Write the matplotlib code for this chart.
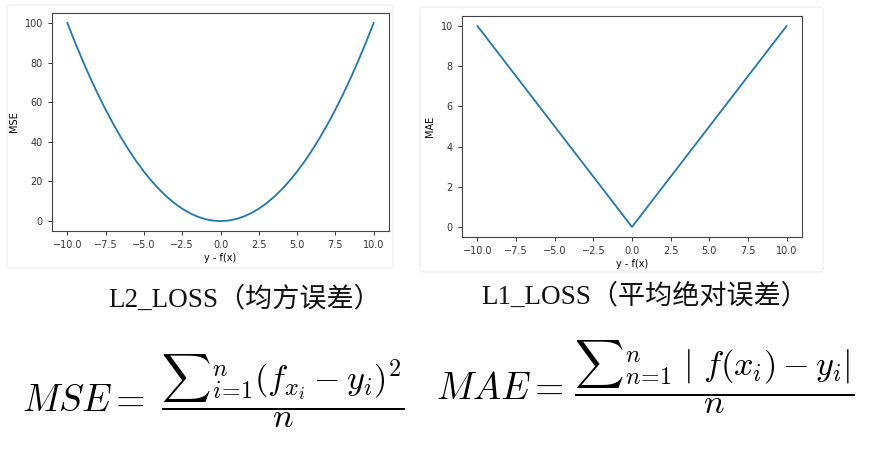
import matplotlib
matplotlib.use("Agg")
import matplotlib.pyplot as plt
from matplotlib.patches import FancyBboxPatch

plt.rcParams['mathtext.fontset'] = 'cm'

# values
x_mse = [-10, -9.5, -9, -8.5, -8, -7.5, -7, -6.5, -6, -5.5, -5, -4.5, -4, -3.5, -3, -2.5, -2, -1.5, -1, -0.5,
         0, 0.5, 1, 1.5, 2, 2.5, 3, 3.5, 4, 4.5, 5, 5.5, 6, 6.5, 7, 7.5, 8, 8.5, 9, 9.5, 10]
y_mse = [100, 90.25, 81, 72.25, 64, 56.25, 49, 42.25, 36, 30.25, 25, 20.25, 16, 12.25, 9, 6.25, 4, 2.25, 1, 0.25,
         0, 0.25, 1, 2.25, 4, 6.25, 9, 12.25, 16, 20.25, 25, 30.25, 36, 42.25, 49, 56.25, 64, 72.25, 81, 90.25, 100]
x_mae = [-10, 0, 10]
y_mae = [10, 0, 10]

W, H = 881, 459
fig = plt.figure(figsize=(W / 100, H / 100), dpi=100)
fig.patch.set_facecolor("white")

def px(x0, y0, x1, y1):
    # pixel box -> figure fraction [left, bottom, width, height]
    return [x0 / W, 1 - y1 / H, (x1 - x0) / W, (y1 - y0) / H]

# light screenshot cards behind each plot
for box in [(7, 5, 393, 268), (420, 7, 823, 272)]:
    l, b, w, h = px(*box)
    fig.patches.append(FancyBboxPatch((l, b), w, h, boxstyle="round,pad=0,rounding_size=0.006",
                                      transform=fig.transFigure, facecolor="white",
                                      edgecolor="#ececec", linewidth=0.8, zorder=-5))

ax1 = fig.add_axes(px(52, 13, 389, 231))
ax1.plot(x_mse, y_mse, color="#1f77b4", linewidth=1.3)
ax1.set_xlabel("y - f(x)", fontsize=7, labelpad=2)
ax1.set_ylabel("MSE", fontsize=7, labelpad=4)

ax2 = fig.add_axes(px(462, 16, 802, 237))
ax2.plot(x_mae, y_mae, color="#1f77b4", linewidth=1.3)
ax2.set_xlabel("y - f(x)", fontsize=7, labelpad=2)
ax2.set_ylabel("MAE", fontsize=7, labelpad=4)

for ax in (ax1, ax2):
    ax.set_xticks([-10, -7.5, -5, -2.5, 0, 2.5, 5, 7.5, 10])
    ax.tick_params(labelsize=7, colors="#333333", length=3, width=0.7)
    for s in ax.spines.values():
        s.set_color("#444444")
        s.set_linewidth(0.8)
ax2.set_yticks([0, 2, 4, 6, 8, 10])

cap_font = ['Liberation Serif', 'Noto Sans CJK SC']
fig.text(245 / W, 1 - 300 / H, "L2_LOSS（均方误差）", family=cap_font,
         fontsize=19.5, ha="center", va="center", color="#111111")
fig.text(645 / W, 1 - 297 / H, "L1_LOSS（平均绝对误差）", family=cap_font,
         fontsize=19.5, ha="center", va="center", color="#111111")

fig.text(22 / W, 1 - 401 / H, r"$MSE=$", fontsize=27, ha="left", va="center")
fig.text(161 / W, 1 - 391 / H, r"$\dfrac{{\sum}_{i\!=\!1}^{n}(f_{x_i}-y_i)^2}{n}$",
         fontsize=24.7, ha="left", va="center")
fig.text(436 / W, 1 - 389 / H, r"$MAE=$", fontsize=27, ha="left", va="center")
fig.text(574 / W, 1 - 377 / H, r"$\dfrac{{\sum}_{n\!=\!1}^{n}\ |\ f(x_i)-y_i|}{n}$",
         fontsize=24.7, ha="left", va="center")

fig.savefig("out.png", dpi=100)
